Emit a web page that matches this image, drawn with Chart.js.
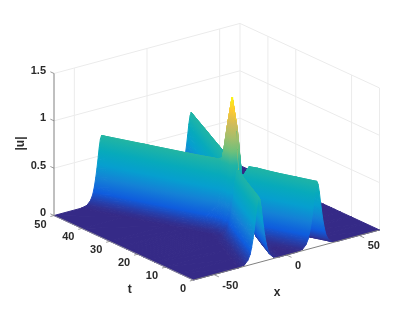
<!DOCTYPE html>
<html><head><meta charset="utf-8">
<style>html,body{margin:0;padding:0;background:#fff}canvas{display:block}</style>
<script src="https://cdn.jsdelivr.net/npm/chart.js@4"></script>
</head><body><canvas id="c" width="419" height="314"></canvas>
<script>
// ---- values ----
const tRows  = [50,40,30,26,24,23,22,21,20,19,18,17,16,14,10,5,0];
const leftX  = [-31.3,-20.8,-10.3,-6.1,-4,-2.9,-1.9,-0.6,1,-0.6,-1,-2,-3,-5,-9,-14,-19];
const rightX = [30.4,20.8,11.1,7.3,5.3,4.4,3.4,2.6,1,2.6,3,4,5,7,11,16,21];
const leftH  = [.71,.71,.71,.71,.69,.65,.58,.7,.695,.7,.42,.5,.65,.69,.69,.69,.69];
const rightH = [.70,.70,.70,.70,.69,.65,.58,.7,.695,.7,.42,.5,.65,.69,.69,.69,.69];
const ridgeOffset = [0,.8,1.6,2.4,3.2,4,5,6,7.5,10,14];
const ridgeShape  = [1,.95,.83,.67,.52,.39,.26,.16,.08,.02,0];
const xTicks = [-50,0,50];
const tTicks = [0,10,20,30,40,50];
const zTicks = [0,.5,1,1.5];
const tGridTicks = [10,30,40];
const xRange = [-64,64], tRange = [0,50], uMax = 1.4;
const parulaStops = ['#352a87','#0f5cdd','#1481d6','#069fcf','#07aabb','#20b4a5','#6dc07b','#a5be6b','#d1bb59','#fec832','#f9fb0e'];

// view of the box (orthographic)
const view = {ox:286.5, oy:255, xx:1.453, xy:-.391, tx:-2.79, ty:-1.29, zy:-94.7};
const proj = (X,t,u) => ({x:view.ox+view.xx*X+view.tx*t, y:view.oy+view.xy*X+view.ty*t+view.zy*u});

function shape(d){
  d=Math.abs(d);
  for(let i=1;i<ridgeOffset.length;i++){
    if(d<=ridgeOffset[i]){
      const f=(d-ridgeOffset[i-1])/(ridgeOffset[i]-ridgeOffset[i-1]);
      return ridgeShape[i-1]+f*(ridgeShape[i]-ridgeShape[i-1]);
    }
  }
  return 0;
}
// table: row r, column c => {X,t,u}; columns follow the two ridges
const table = tRows.map((t,r)=>{
  const L=leftX[r],R=rightX[r],mid=(L+R)/2,xs=[xRange[0]];
  const offs=ridgeOffset.slice(1);
  for(let i=offs.length-1;i>=0;i--)xs.push(L-offs[i]);
  xs.push(L);
  offs.forEach(o=>xs.push(Math.min(L+o,mid)));
  for(let i=offs.length-1;i>=0;i--)xs.push(Math.max(R-offs[i],mid));
  xs.push(R);
  offs.forEach(o=>xs.push(R+o));
  xs.push(xRange[1]);
  return xs.map(X=>({X,t,u:leftH[r]*shape(X-L)+rightH[r]*shape(X-R)}));
});

function rgb(hex){return [1,3,5].map(i=>parseInt(hex.substr(i,2),16));}
function colorAt(c){
  c=Math.max(0,Math.min(1,c))*(parulaStops.length-1);
  const i=Math.min(Math.floor(c),parulaStops.length-2),f=c-i,a=rgb(parulaStops[i]),b=rgb(parulaStops[i+1]);
  return `rgb(${a.map((v,k)=>Math.round(v+f*(b[k]-v))).join(',')})`;
}
// exact linear shading over one triangle of the table
function triPaint(chart,cells){
  const sx=chart.scales.x,sy=chart.scales.y;
  const flat=colorAt(cells.reduce((s,c)=>s+c.u,0)/cells.length/uMax);
  if(!sx||!sy)return flat;
  const P=cells.map(c=>{const p=proj(c.X,c.t,c.u);return{x:sx.getPixelForValue(p.x),y:sy.getPixelForValue(p.y),u:c.u};});
  if(P.some(p=>!isFinite(p.x)||!isFinite(p.y)))return flat;
  const ax=P[1].x-P[0].x,ay=P[1].y-P[0].y,bx=P[2].x-P[0].x,by=P[2].y-P[0].y;
  const du1=P[1].u-P[0].u,du2=P[2].u-P[0].u,det=ax*by-ay*bx;
  const lo=Math.min(P[0].u,P[1].u,P[2].u),hi=Math.max(P[0].u,P[1].u,P[2].u);
  if(hi-lo<.002||Math.abs(det)<.02)return flat;
  const ga=(du1*by-du2*ay)/det,gb=(ax*du2-bx*du1)/det,g2=ga*ga+gb*gb;
  if(g2<1e-12)return flat;
  const k0=(lo-P[0].u)/g2,k1=(hi-P[0].u)/g2;
  const grad=chart.ctx.createLinearGradient(P[0].x+ga*k0,P[0].y+gb*k0,P[0].x+ga*k1,P[0].y+gb*k1);
  const N=parulaStops.length-1,c0=lo/uMax,c1=hi/uMax;
  grad.addColorStop(0,colorAt(c0));
  for(let i=1;i<N;i++){const c=i/N;if(c>c0&&c<c1)grad.addColorStop((c-c0)/(c1-c0),colorAt(c));}
  grad.addColorStop(1,colorAt(c1));
  return grad;
}
const painted=[];
function lineSet(a,color,width){painted.push({data:a.map(p=>proj(p[0],p[1],p[2])),showLine:true,borderColor:color,borderWidth:width,pointRadius:0,fill:false});}
function triSet(cells){
  const poly=cells.concat([cells[0]]).map(q=>proj(q.X,q.t,q.u));
  const paint=ctx=>triPaint(ctx.chart,cells);
  painted.push({data:poly,showLine:true,fill:'shape',backgroundColor:paint,borderColor:paint,borderWidth:1,pointRadius:0,tension:0});
}

const gridColor='#ebebeb',axisColor='#808080';
const [x0,x1]=xRange,[t0,t1]=tRange,zTop=zTicks[zTicks.length-1];
// back walls
zTicks.slice(1).forEach(z=>{lineSet([[x0,t1,z],[x1,t1,z],[x1,t0,z]],gridColor,1);});
xTicks.forEach(X=>lineSet([[X,t1,0],[X,t1,zTop]],gridColor,1));
tGridTicks.forEach(t=>lineSet([[x1,t,0],[x1,t,zTop]],gridColor,1));
lineSet([[x1,t1,0],[x1,t1,zTop]],gridColor,1);
lineSet([[x1,t0,0],[x1,t0,zTop]],gridColor,1);
// surface, far rows first, right columns first
for(let r=0;r<table.length-1;r++){
  const a=table[r],b=table[r+1];
  for(let c=a.length-2;c>=0;c--){
    triSet([a[c],a[c+1],b[c+1]]);
    triSet([a[c],b[c+1],b[c]]);
  }
}
// axes and ticks
lineSet([[x0,t1,0],[x0,t1,zTop]],axisColor,1);
lineSet([[x0,t0,0],[x1,t0,0]],axisColor,1);
lineSet([[x0,t0,0],[x0,t1,0]],'#9a9a9a',.8);
xTicks.forEach(X=>lineSet([[X,t0,0],[X,t0-1.8,0]],axisColor,.8));
tTicks.forEach(t=>lineSet([[x0,t,0],[x0-2.5,t,0]],axisColor,.8));
zTicks.forEach(z=>lineSet([[x0,t1,z],[x0,t1+1.3,z]],axisColor,.8));

const textPlugin={id:'boxText',afterDatasetsDraw(chart){
  const c=chart.ctx,sx=chart.scales.x,sy=chart.scales.y;
  const put=(s,p,dx,dy,al)=>{c.textAlign=al;c.fillText(s,sx.getPixelForValue(p.x)+dx,sy.getPixelForValue(p.y)+dy);};
  c.save();c.fillStyle='#2a2a2a';c.textBaseline='middle';c.font='bold 11px "Liberation Sans"';
  zTicks.forEach(z=>put(String(z),proj(x0,t1,z),-8,-2.5,'right'));
  tTicks.forEach(t=>put(String(t),proj(x0,t,0),-7.5,9,'right'));
  xTicks.forEach(X=>put(String(X),proj(X,t0,0),8.5,11,'left'));
  c.font='bold 12px "Liberation Sans"';
  put('x',proj(0,t0,0),-9.5,38,'center');
  put('t',proj(x0,25,0),6,41.5,'center');
  c.translate(21,143.5);c.rotate(-Math.PI/2);c.textAlign='center';c.fillText('|u|',0,0);
  c.restore();
}};
new Chart(document.getElementById('c'),{
  type:'scatter',
  data:{datasets:painted.reverse()},
  options:{responsive:false,animation:false,events:[],normalized:true,
    layout:{padding:0},
    plugins:{legend:{display:false},tooltip:{enabled:false}},
    scales:{x:{type:'linear',min:0,max:419,display:false},y:{type:'linear',min:0,max:314,reverse:true,display:false}}},
  plugins:[textPlugin]
});
</script></body></html>
